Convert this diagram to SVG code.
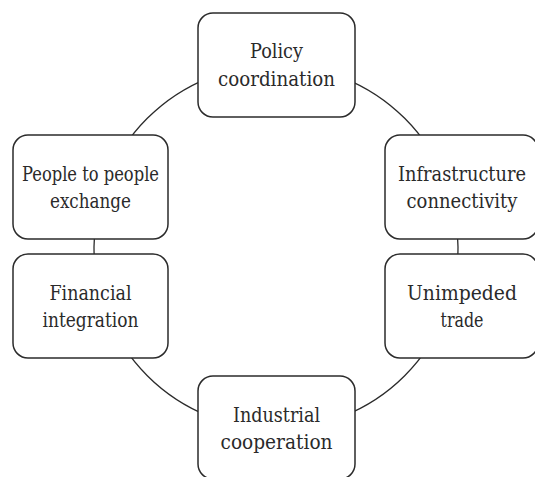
<svg xmlns="http://www.w3.org/2000/svg" width="535" height="477" viewBox="0 0 535 477">
<style>
.box{fill:#ffffff;stroke:#2b2b2b;stroke-width:1.5}
.conn{fill:none;stroke:#2b2b2b;stroke-width:1.3}
.t{font-family:'DejaVu Serif','Liberation Serif','Times New Roman',serif;font-size:20px;fill:#2a2a2a;text-anchor:middle}
</style>
<rect width="535" height="477" fill="#ffffff"/>
<g id="connectors">
<circle class="conn" cx="276" cy="247" r="182"/>
</g>
<g id="policy">
<rect class="box" x="198" y="13" width="157" height="104" rx="15"/>
<text class="t" x="276.5" y="58" textLength="53" lengthAdjust="spacingAndGlyphs">Policy</text>
<text class="t" x="276.5" y="86" textLength="117" lengthAdjust="spacingAndGlyphs">coordination</text>
</g>
<g id="people">
<rect class="box" x="13" y="135" width="155" height="104" rx="15"/>
<text class="t" x="90.5" y="181" textLength="137" lengthAdjust="spacingAndGlyphs">People to people</text>
<text class="t" x="90.5" y="208" textLength="81" lengthAdjust="spacingAndGlyphs">exchange</text>
</g>
<g id="infrastructure">
<rect class="box" x="385" y="135" width="153" height="104" rx="15"/>
<text class="t" x="462" y="181" textLength="128" lengthAdjust="spacingAndGlyphs">Infrastructure</text>
<text class="t" x="462" y="208" textLength="111" lengthAdjust="spacingAndGlyphs">connectivity</text>
</g>
<g id="financial">
<rect class="box" x="13" y="254" width="155" height="104" rx="15"/>
<text class="t" x="90.5" y="300" textLength="82" lengthAdjust="spacingAndGlyphs">Financial</text>
<text class="t" x="90.5" y="327" textLength="96" lengthAdjust="spacingAndGlyphs">integration</text>
</g>
<g id="unimpeded">
<rect class="box" x="385" y="254" width="153" height="104" rx="15"/>
<text class="t" x="462" y="300" textLength="110" lengthAdjust="spacingAndGlyphs">Unimpeded</text>
<text class="t" x="462" y="327" textLength="43" lengthAdjust="spacingAndGlyphs">trade</text>
</g>
<g id="industrial">
<rect class="box" x="198" y="376" width="157" height="103" rx="15"/>
<text class="t" x="276.5" y="422" textLength="87" lengthAdjust="spacingAndGlyphs">Industrial</text>
<text class="t" x="276.5" y="449" textLength="112" lengthAdjust="spacingAndGlyphs">cooperation</text>
</g>
</svg>
